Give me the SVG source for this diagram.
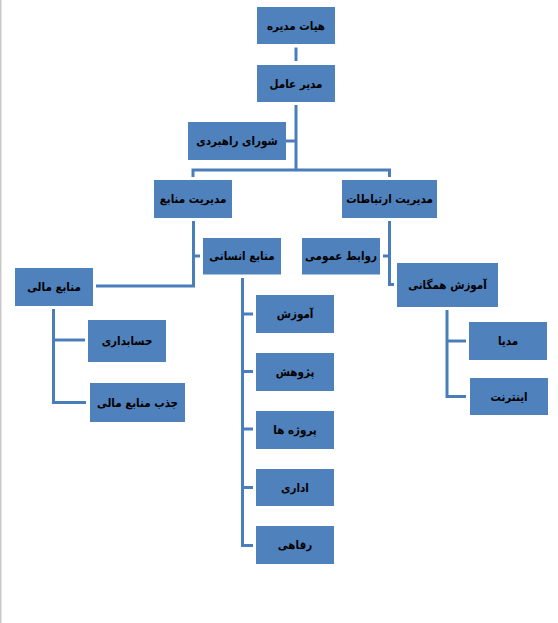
<svg xmlns="http://www.w3.org/2000/svg" width="558" height="623" viewBox="0 0 558 623">
<style>
.box{fill:#4F81BD;}
.lbl{font-family:"DejaVu Sans Condensed","DejaVu Sans",sans-serif;font-stretch:condensed;font-weight:bold;font-size:11.5px;fill:#000;text-anchor:middle;dominant-baseline:central;}
.ln{fill:none;stroke:#4A7EBB;stroke-width:3;}
</style>
<rect x="0" y="0" width="558" height="623" fill="#fff"/>
<rect x="0" y="0" width="1.5" height="623" fill="#c8c8c8"/>
<g id="connectors">
<path class="ln" d="M296 47.5V61"/>
<path class="ln" d="M296 105V170"/>
<path class="ln" d="M286 141H296"/>
<path class="ln" d="M193 177V170H389.5V177"/>
<path class="ln" d="M193.5 221V286H96"/>
<path class="ln" d="M193.5 256H200"/>
<path class="ln" d="M389.5 221V284.5H394"/>
<path class="ln" d="M389.5 256H383"/>
<path class="ln" d="M53.5 309V402.5H86"/>
<path class="ln" d="M53.5 340H85"/>
<path class="ln" d="M242.5 278V545.5H253"/>
<path class="ln" d="M242.5 314H253M242.5 371.5H253M242.5 429H253M242.5 487.5H253"/>
<path class="ln" d="M447 310V396.5H466"/>
<path class="ln" d="M447 341H466"/>
</g>
<g id="n1"><rect class="box" x="257" y="7" width="78" height="37"/><text class="lbl" x="296" y="25.5">هیات مدیره</text></g>
<g id="n2"><rect class="box" x="257" y="65" width="78" height="37"/><text class="lbl" x="296" y="83.5">مدیر عامل</text></g>
<g id="n3"><rect class="box" x="188" y="122" width="98" height="38"/><text class="lbl" x="237" y="141">شورای راهبردی</text></g>
<g id="n4"><rect class="box" x="154" y="180" width="78" height="38"/><text class="lbl" x="193" y="199">مدیریت منابع</text></g>
<g id="n5"><rect class="box" x="342" y="180" width="95" height="38"/><text class="lbl" x="389.5" y="199">مدیریت ارتباطات</text></g>
<g id="n6"><rect class="box" x="203" y="238" width="78" height="36.5"/><text class="lbl" x="242" y="256">منابع انسانی</text></g>
<g id="n7"><rect class="box" x="15" y="268" width="78" height="38"/><text class="lbl" x="54" y="287">منابع مالی</text></g>
<g id="n8"><rect class="box" x="302" y="238" width="78" height="36.5"/><text class="lbl" x="341" y="256">روابط عمومی</text></g>
<g id="n9"><rect class="box" x="397" y="263" width="101" height="44"/><text class="lbl" x="447.5" y="285">آموزش همگانی</text></g>
<g id="n10"><rect class="box" x="88" y="320" width="78" height="42"/><text class="lbl" x="127" y="341">حسابداری</text></g>
<g id="n11"><rect class="box" x="90" y="383" width="95" height="39"/><text class="lbl" x="137.5" y="402.5">جذب منابع مالی</text></g>
<g id="n12"><rect class="box" x="256" y="295" width="78" height="38"/><text class="lbl" x="295" y="314">آموزش</text></g>
<g id="n13"><rect class="box" x="256" y="353" width="78" height="38"/><text class="lbl" x="295" y="372">پژوهش</text></g>
<g id="n14"><rect class="box" x="256" y="411" width="78" height="38"/><text class="lbl" x="295" y="430">پروژه ها</text></g>
<g id="n15"><rect class="box" x="256" y="469" width="78" height="37"/><text class="lbl" x="295" y="487.5">اداری</text></g>
<g id="n16"><rect class="box" x="256" y="526" width="78" height="38"/><text class="lbl" x="295" y="545">رفاهی</text></g>
<g id="n17"><rect class="box" x="469" y="322" width="78" height="38"/><text class="lbl" x="508" y="341">مدیا</text></g>
<g id="n18"><rect class="box" x="470" y="378" width="78" height="37"/><text class="lbl" x="509" y="396.5">اینترنت</text></g>
</svg>
